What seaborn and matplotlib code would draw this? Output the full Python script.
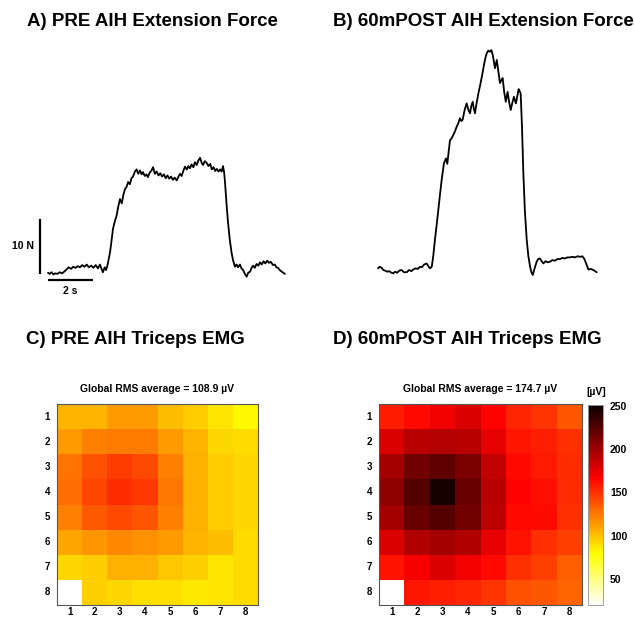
import numpy as np
import pandas as pd
import matplotlib

matplotlib.use('Agg')
import matplotlib.pyplot as plt
import seaborn as sns

# force traces (time in s, force in N above baseline)
pre_time = [0.00, 0.08, 0.16, 0.24, 0.32, 0.42, 0.52, 0.62, 0.72, 0.82,
            0.92, 1.02, 1.12, 1.22, 1.32, 1.42, 1.52, 1.62, 1.72, 1.82,
            1.92, 2.02, 2.12, 2.22, 2.31, 2.38, 2.44, 2.52, 2.58, 2.62,
            2.68, 2.76, 2.83, 2.89, 2.96, 3.05, 3.12, 3.20, 3.28, 3.35,
            3.42, 3.49, 3.56, 3.64, 3.71, 3.78, 3.86, 3.94, 4.01, 4.09,
            4.16, 4.22, 4.30, 4.37, 4.44, 4.52, 4.60, 4.67, 4.75, 4.83,
            4.91, 4.99, 5.07, 5.15, 5.23, 5.31, 5.39, 5.47, 5.55, 5.63,
            5.72, 5.80, 5.87, 5.94, 6.02, 6.09, 6.17, 6.24, 6.31, 6.38,
            6.46, 6.53, 6.61, 6.68, 6.76, 6.83, 6.89, 6.97, 7.05, 7.13,
            7.21, 7.28, 7.36, 7.43, 7.50, 7.58, 7.65, 7.72, 7.78, 7.83,
            7.87, 7.93, 8.00, 8.08, 8.16, 8.23, 8.31, 8.38, 8.45, 8.53,
            8.60, 8.67, 8.75, 8.83, 8.90, 8.98, 9.05, 9.11, 9.19, 9.27,
            9.35, 9.42, 9.50, 9.58, 9.66, 9.74, 9.82, 9.90, 10.00, 10.08,
            10.15, 10.22, 10.30, 10.39, 10.46, 10.53]
pre_force = [0.4, 0.2, 0.5, 0.1, 0.3, 0.2, 0.5, 0.3, 0.6, 1.0,
             1.4, 1.1, 1.5, 1.3, 1.6, 1.4, 1.8, 1.5, 1.9, 1.4,
             1.7, 1.3, 1.8, 1.2, 1.9, 1.1, 0.5, 1.4, 0.9, 1.4,
             2.5, 4.2, 6.5, 8.4, 9.6, 10.8, 12.4, 13.8, 13.0, 14.6,
             15.6, 16.0, 16.9, 16.5, 17.6, 17.9, 18.8, 19.2, 18.4, 19.0,
             18.3, 18.7, 18.0, 18.3, 17.8, 18.6, 19.0, 19.6, 18.4, 18.8,
             18.1, 18.5, 17.9, 18.3, 17.6, 18.1, 17.5, 17.9, 17.3, 17.7,
             17.2, 17.9, 18.4, 18.0, 19.0, 19.7, 19.2, 19.8, 19.4, 20.1,
             19.6, 20.5, 20.0, 20.8, 21.3, 20.4, 20.0, 20.7, 20.4, 19.8,
             20.2, 19.2, 19.6, 18.9, 19.3, 18.8, 19.2, 18.8, 19.8, 18.6,
             16.7, 13.2, 9.6, 6.4, 4.0, 2.6, 1.5, 1.9, 1.4, 1.9,
             1.2, 0.9, 0.2, -0.3, 0.4, 0.6, 1.3, 1.7, 1.3, 2.0,
             1.7, 2.3, 1.9, 2.5, 2.1, 2.6, 2.2, 2.4, 1.8, 1.9,
             1.4, 1.3, 0.9, 0.6, 0.4, 0.2]

post_time = [0.00, 0.08, 0.16, 0.24, 0.31, 0.40, 0.50, 0.60, 0.68, 0.76,
             0.85, 0.95, 1.05, 1.15, 1.28, 1.38, 1.48, 1.57, 1.67, 1.77,
             1.87, 1.95, 2.05, 2.16, 2.24, 2.31, 2.39, 2.46, 2.53, 2.61,
             2.68, 2.76, 2.83, 2.93, 3.02, 3.08, 3.14, 3.20, 3.28, 3.35,
             3.42, 3.50, 3.57, 3.64, 3.70, 3.76, 3.85, 3.94, 4.02, 4.09,
             4.15, 4.21, 4.26, 4.31, 4.38, 4.46, 4.56, 4.64, 4.71, 4.77,
             4.83, 4.90, 4.98, 5.04, 5.10, 5.15, 5.20, 5.28, 5.35, 5.42,
             5.48, 5.54, 5.61, 5.68, 5.76, 5.83, 5.90, 5.97, 6.04, 6.13,
             6.19, 6.25, 6.30, 6.34, 6.40, 6.46, 6.53, 6.61, 6.68, 6.76,
             6.82, 6.88, 6.96, 7.05, 7.12, 7.20, 7.27, 7.35, 7.45, 7.55,
             7.64, 7.75, 7.86, 7.98, 8.09, 8.20, 8.31, 8.42, 8.53, 8.64,
             8.76, 8.87, 8.98, 9.08, 9.16, 9.26, 9.35, 9.46, 9.57, 9.65,
             9.72]
post_force = [1.2, 1.5, 1.3, 0.9, 0.8, 0.6, 0.7, 0.4, 0.3, 0.6,
              0.4, 0.8, 0.9, 0.5, 0.5, 0.9, 0.7, 1.0, 1.2, 1.1,
              1.5, 1.4, 1.9, 2.1, 1.6, 1.2, 1.5, 3.6, 6.4, 9.2,
              11.8, 14.8, 17.3, 20.3, 21.2, 20.2, 22.4, 24.5, 24.9, 25.5,
              26.1, 27.0, 27.6, 28.5, 28.0, 28.2, 30.0, 31.2, 30.0, 29.4,
              30.8, 31.5, 30.2, 29.4, 31.2, 33.0, 34.9, 36.6, 38.2, 39.4,
              40.3, 40.8, 40.6, 40.9, 40.0, 38.8, 37.6, 39.1, 37.0, 34.9,
              35.4, 35.8, 33.2, 31.5, 33.3, 31.4, 30.0, 31.3, 32.4, 31.2,
              32.5, 33.8, 33.4, 33.0, 27.0, 18.5, 11.5, 6.4, 3.5, 1.5,
              0.5, 0.0, 1.2, 2.4, 2.9, 3.0, 2.5, 2.1, 2.5, 2.3,
              2.4, 2.7, 2.6, 2.9, 2.9, 3.1, 3.0, 3.2, 3.2, 3.3,
              3.2, 3.4, 3.3, 3.4, 3.0, 2.0, 1.0, 1.1, 0.9, 0.7,
              0.5]

# EMG RMS grids (uV), 8x8 electrodes, channel (8,1) missing
electrodes = [1, 2, 3, 4, 5, 6, 7, 8]
pre_rms = [
    [104, 104, 113, 113, 102, 96, 88, 81],
    [113, 122, 124, 124, 113, 104, 93, 91],
    [127, 139, 146, 141, 122, 106, 96, 93],
    [129, 143, 151, 148, 126, 106, 96, 93],
    [122, 136, 141, 138, 122, 106, 96, 93],
    [110, 115, 120, 117, 113, 104, 102, 91],
    [93, 96, 106, 106, 98, 95, 88, 91],
    [np.nan, 95, 93, 90, 90, 86, 88, 91],
]
post_rms = [
    [157, 164, 171, 179, 166, 154, 149, 137],
    [179, 191, 193, 191, 175, 159, 156, 150],
    [198, 215, 222, 212, 187, 164, 158, 151],
    [205, 225, 246, 218, 191, 166, 162, 152],
    [198, 218, 225, 215, 189, 164, 163, 150],
    [179, 194, 198, 194, 175, 160, 150, 145],
    [160, 168, 179, 170, 164, 150, 145, 134],
    [np.nan, 159, 156, 154, 149, 139, 137, 132],
]
pre_avg = 108.9
post_avg = 174.7
cbar_ticks = [50, 100, 150, 200, 250]

sns.set_style('white')
plt.rcParams['font.family'] = ['Liberation Sans', 'DejaVu Sans']
plt.rcParams['font.weight'] = 'bold'
plt.rcParams['text.color'] = 'black'
plt.rcParams['xtick.labelcolor'] = 'black'
plt.rcParams['ytick.labelcolor'] = 'black'

W, H = 634, 619
fig = plt.figure(figsize=(W / 100, H / 100), dpi=100)


def px_axes(x0, y0, x1, y1):
    return fig.add_axes([x0 / W, 1 - y1 / H, (x1 - x0) / W, (y1 - y0) / H])


# Force panels
ax_a = px_axes(30, 40, 300, 300)
ax_b = px_axes(360, 40, 630, 300)
for ax, t, f in [(ax_a, pre_time, pre_force), (ax_b, post_time, post_force)]:
    sns.lineplot(x=t, y=f, ax=ax, color='black', lw=1.3, sort=False)
    ax.set_xlim(-0.8, 11.2)
    ax.set_ylim(-4.55, 42.73)
    ax.axis('off')

# scale bars
ax_a.plot([-0.36, -0.36], [0.2, 10.2], color='black', lw=1.6, solid_capstyle='butt')
ax_a.plot([0.0, 2.0], [-1.0, -1.0], color='black', lw=1.6, solid_capstyle='butt')
ax_a.text(-0.6, 5.2, '10 N', ha='right', va='center', fontsize=7.5, fontweight='bold')
ax_a.text(1.0, -2.0, '2 s', ha='center', va='top', fontsize=7.5, fontweight='bold')

fig.text(27 / W, 1 - 22 / H, 'A) PRE AIH Extension Force', fontsize=13.5,
         fontweight='bold', va='center')
fig.text(333 / W, 1 - 22 / H, 'B) 60mPOST AIH Extension Force', fontsize=13.5,
         fontweight='bold', va='center')
fig.text(26 / W, 1 - 339 / H, 'C) PRE AIH Triceps EMG', fontsize=13.5,
         fontweight='bold', va='center')
fig.text(333 / W, 1 - 339 / H, 'D) 60mPOST AIH Triceps EMG', fontsize=13.5,
         fontweight='bold', va='center')

# EMG heatmaps
ax_c = px_axes(57, 404, 258, 605)
ax_d = px_axes(379, 404, 582, 605)
cax = px_axes(588, 405, 603, 605)

for ax, grid, avg, cb in [(ax_c, pre_rms, pre_avg, False), (ax_d, post_rms, post_avg, True)]:
    df = pd.DataFrame(grid, index=electrodes, columns=electrodes)
    sns.heatmap(df, ax=ax, cmap='hot_r', vmin=20, vmax=251, cbar=cb,
                cbar_ax=cax if cb else None,
                cbar_kws={'ticks': cbar_ticks} if cb else None)
    for s in ax.spines.values():
        s.set_visible(True)
        s.set_color('#555555')
        s.set_linewidth(0.8)
    ax.tick_params(direction='in', top=True, right=True, length=2.5,
                   width=0.6, color='#555555', labelsize=7, pad=5)
    ax.tick_params(axis='x', pad=1.5)
    for lab in ax.get_xticklabels() + ax.get_yticklabels():
        lab.set_fontweight('bold')
        lab.set_rotation(0)
    ax.set_title(f'Global RMS average = {avg} µV', fontsize=7.5,
                 fontweight='bold', pad=9)

cax.tick_params(length=0, labelsize=7.5, pad=5)
for lab in cax.get_yticklabels():
    lab.set_fontweight('bold')
for s in cax.spines.values():
    s.set_visible(True)
    s.set_color('#999999')
    s.set_linewidth(0.5)
cax.text(-0.1, 1.04, '[µV]', transform=cax.transAxes, ha='left', va='bottom',
         fontsize=7.5, fontweight='bold')

fig.savefig('out.png', dpi=100, facecolor='white')
